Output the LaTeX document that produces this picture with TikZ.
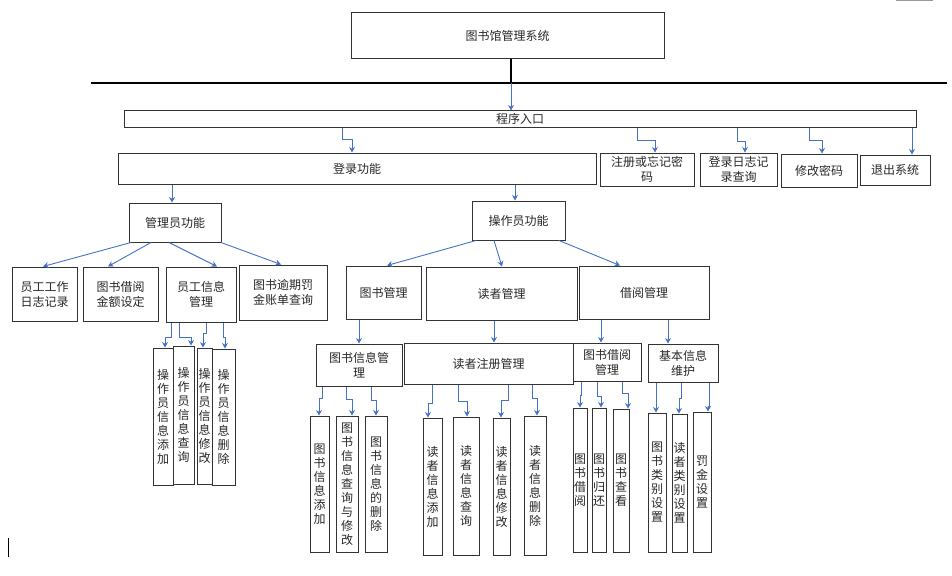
\documentclass[tikz,border=0pt]{standalone}
\usepackage{fontspec}
\setmainfont{Noto Sans CJK SC}
\XeTeXlinebreaklocale "zh"
\XeTeXlinebreakskip=0pt plus 1pt
\usepackage{tikz}
\usetikzlibrary{arrows.meta,positioning,calc}
\definecolor{lineblue}{HTML}{4472C4}

\begin{document}
\begin{tikzpicture}[x=1pt,y=-1pt,>={Stealth[length=5.5pt,width=6pt]},
    box/.style={draw=black!80,line width=1pt,inner sep=0pt,align=center,text=black!85,font=\fontsize{12}{15}\selectfont},
    vbox/.style={box,text width=12pt,font=\fontsize{12}{14}\selectfont},
    sz/.style 2 args={minimum width=#1pt,minimum height=#2pt},
    link/.style={->,draw=lineblue,line width=0.9pt}]
    \useasboundingbox (0,0) rectangle (952,575);

    \node [box,sz={313}{46}] (sys) at (507.5,36) {图书馆管理系统};
    \coordinate (lineL) at (91,83);
    \coordinate (lineR) at (947,83);
    \coordinate (hub) at (511,83);
    \node [box,sz={792}{16}] (entry) at (520,119) {程序入口};

    \node [box,sz={478}{31}] (login) at (357,168.5) {登录功能};
    \node [box,sz={94}{33}] (reg) at (647,169.5) {注册或忘记密\\码};
    \node [box,sz={77}{33}] (logq) at (738.5,169.5) {登录日志记\\录查询};
    \node [box,sz={76}{33}] (pwd) at (819,170.5) {修改密码};
    \node [box,sz={70}{30}] (quit) at (895,170) {退出系统};

    \node [box,sz={92}{39}] (admin) at (175,222.5) {管理员功能};
    \node [box,sz={93}{39}] (oper) at (518.5,220.5) {操作员功能};

    \node [box,sz={65}{54}] (worklog) at (44.5,294) {员工工作\\日志记录};
    \node [box,sz={75}{54}] (amount) at (120.5,294) {图书借阅\\金额设定};
    \node [box,sz={70}{55}] (staff) at (201,294.5) {员工信息\\管理};
    \node [box,sz={88}{55}] (overdue) at (283,292.5) {图书逾期罚\\金账单查询};

    \node [box,sz={75}{53}] (bookmgr) at (383.5,292.5) {图书管理};
    \node [box,sz={151}{53}] (readmgr) at (501.5,293.5) {读者管理};
    \node [box,sz={130}{53}] (lendmgr) at (644,292.5) {借阅管理};

    \node [box,sz={86}{42}] (bookinfo) at (359,365) {图书信息管\\理};
    \node [box,sz={169}{41}] (readreg) at (488.5,363.5) {读者注册管理};
    \node [box,sz={68}{38}] (lend) at (607,362) {图书借阅\\管理};
    \node [box,sz={70}{38}] (basic) at (683,363) {基本信息\\维护};

    \node [vbox,sz={20}{137}] (op1) at (163,416.5) {操作员信息添加};
    \node [vbox,sz={21}{138}] (op2) at (183.5,415) {操作员信息查询};
    \node [vbox,sz={15}{136}] (op3) at (204.5,416) {操作员信息修改};
    \node [vbox,sz={23}{136}] (op4) at (223.5,417) {操作员信息删除};

    \node [vbox,sz={19}{136}] (bi1) at (319.5,484) {图书信息添加};
    \node [vbox,sz={22}{136}] (bi2) at (347,484) {图书信息查询与修改};
    \node [vbox,sz={22}{136}] (bi3) at (376,484) {图书信息的删除};

    \node [vbox,sz={19}{137}] (rd1) at (432.5,486.5) {读者信息添加};
    \node [vbox,sz={26}{138}] (rd2) at (466,486) {读者信息查询};
    \node [vbox,sz={17}{137}] (rd3) at (501.5,486.5) {读者信息修改};
    \node [vbox,sz={22}{139}] (rd4) at (535,485.5) {读者信息删除};

    \node [vbox,sz={14}{144}] (ln1) at (580,480) {图书借阅};
    \node [vbox,sz={14}{144}] (ln2) at (599,480) {图书归还};
    \node [vbox,sz={16}{143}] (ln3) at (621,480.5) {图书查看};

    \node [vbox,sz={18}{139}] (bs1) at (657,482.5) {图书类别设置};
    \node [vbox,sz={15}{138}] (bs2) at (679.5,483) {读者类别设置};
    \node [vbox,sz={18}{140}] (bs3) at (702,482) {罚金设置};

    \draw[line width=1.6pt] (lineL) -- (lineR);
    \draw[line width=1.3pt] ([xshift=3.5pt]sys.south) -- (hub);
    \draw[link] (hub) -- ([xshift=-9pt]entry.north);

    \draw[link] ([xshift=-178pt]entry.south) -- ++(0,12) -| ([xshift=-5pt]login.north);
    \draw[link] ([xshift=117pt]entry.south) -- ++(0,13) -| ([xshift=8pt]reg.north);
    \draw[link] ([xshift=217pt]entry.south) -- ++(0,14) -| ([xshift=6.5pt]logq.north);
    \draw[link] ([xshift=289pt]entry.south) -- ++(0,13) -| ([xshift=3pt]pwd.north);
    \draw[link] ([xshift=392pt]entry.south) -- ([xshift=17pt]quit.north);

    \path ([xshift=-185pt]login.south) edge[link] ([xshift=-3pt]admin.north)
        ([xshift=158pt]login.south) edge[link] ([xshift=-3.5pt]oper.north);

    \path ([xshift=-44pt]admin.south) edge[link] ([xshift=-1.5pt]worklog.north)
        ([xshift=-24pt]admin.south) edge[link] ([xshift=-12.5pt]amount.north)
        ([xshift=-6pt]admin.south) edge[link] ([xshift=16pt]staff.north)
        ([xshift=46pt]admin.south) edge[link] ([xshift=-2pt]overdue.north);

    \path ([xshift=-42.5pt]oper.south) edge[link] ([xshift=3.5pt]bookmgr.north)
        ([xshift=-24.5pt]oper.south) edge[link] ([xshift=0.5pt]readmgr.north)
        ([xshift=40.5pt]oper.south) edge[link] ([xshift=-24pt]lendmgr.north);

    \path ([xshift=-24.5pt]bookmgr.south) edge[link] (bookinfo.north)
        ([xshift=-7.5pt]readmgr.south) edge[link] ([xshift=5.5pt]readreg.north)
        ([xshift=-43pt]lendmgr.south) edge[link] ([xshift=-6pt]lend.north)
        ([xshift=24pt]lendmgr.south) edge[link] ([xshift=-15pt]basic.north);

    \draw[link] ([xshift=-30pt]staff.south) -- ++(0,15) -| ([xshift=2pt]op1.north);
    \draw[link] ([xshift=-22pt]staff.south) -- ++(0,15) -| ([xshift=7.5pt]op2.north);
    \draw[link] ([xshift=5pt]staff.south) -- ++(0,11) -| ([xshift=-1.5pt]op3.north);
    \draw[link] ([xshift=22pt]staff.south) -- ++(0,15) -| ([xshift=1.5pt]op4.north);

    \draw[link] ([xshift=-37pt]bookinfo.south) -- ++(0,12) -| ([xshift=-0.5pt]bi1.north);
    \draw[link] ([xshift=-13pt]bookinfo.south) -- ++(0,13) -| ([xshift=5pt]bi2.north);
    \draw[link] ([xshift=12pt]bookinfo.south) -- ++(0,14) -| (bi3.north);

    \draw[link] ([xshift=-56.5pt]readreg.south) -- ++(0,19) -| ([xshift=-4.5pt]rd1.north);
    \draw[link] ([xshift=-30.5pt]readreg.south) -- ++(0,17) -| ([xshift=1pt]rd2.north);
    \draw[link] ([xshift=19.5pt]readreg.south) -- ++(0,16) -| ([xshift=-0.5pt]rd3.north);
    \draw[link] ([xshift=43.5pt]readreg.south) -- ++(0,14) -| ([xshift=2pt]rd4.north);

    \draw[link] ([xshift=-26pt]lend.south) -- ++(0,14) -| (ln1.north);
    \draw[link] ([xshift=-10pt]lend.south) -- ++(0,15) -| ([xshift=2pt]ln2.north);
    \draw[link] ([xshift=15pt]lend.south) -- ++(0,12) -| ([xshift=7pt]ln3.north);

    \draw[link] ([xshift=-27pt]basic.south) -- ([xshift=-1pt]bs1.north);
    \draw[link] ([xshift=-2pt]basic.south) -- ++(0,16) -| ([xshift=-0.5pt]bs2.north);
    \draw[link] ([xshift=26pt]basic.south) -- ++(0,24) -| ([xshift=6pt]bs3.north);

    \draw[black!40,line width=1.5pt] (896,0.75) -- (933,0.75);
    \draw[line width=0.8pt] (8,538) -- (8,557);
\end{tikzpicture}
\end{document}
